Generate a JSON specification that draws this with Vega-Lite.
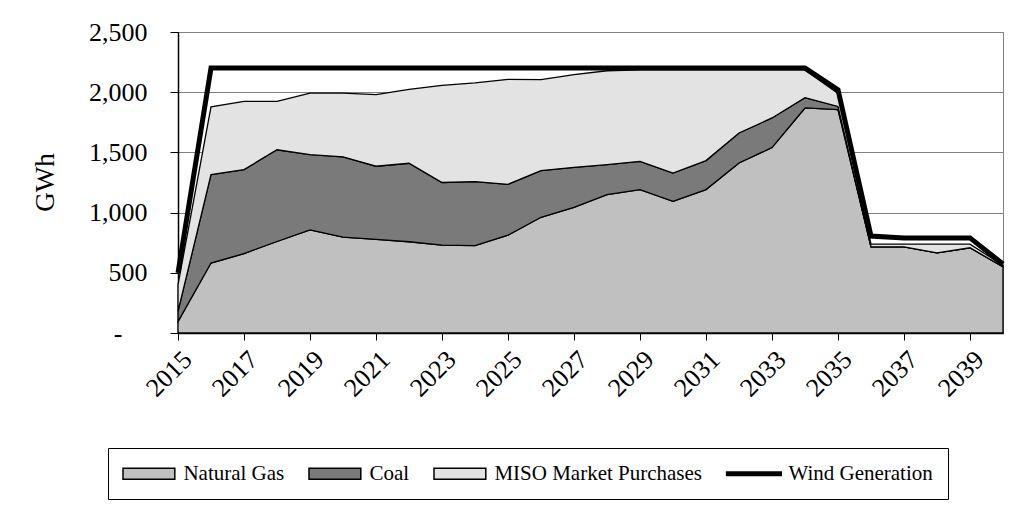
{
  "$schema": "https://vega.github.io/schema/vega-lite/v6.json",
  "width": 825,
  "height": 301,
  "autosize": {"type": "none"},
  "padding": {"left": 178, "top": 32, "right": 7, "bottom": 179},
  "background": "white",
  "config": {
    "font": "Liberation Serif",
    "view": {"stroke": "#808080", "strokeWidth": 1},
    "legend": {"symbolStrokeColor": "black", "symbolStrokeWidth": 1.5}
  },
  "datasets": {
    "gen": [
      {"year":2015,"series":"Natural Gas","k":1,"GWh":95},{"year":2015,"series":"Coal","k":2,"GWh":85},{"year":2015,"series":"MISO Market Purchases","k":3,"GWh":220},
      {"year":2016,"series":"Natural Gas","k":1,"GWh":581},{"year":2016,"series":"Coal","k":2,"GWh":734},{"year":2016,"series":"MISO Market Purchases","k":3,"GWh":563},
      {"year":2017,"series":"Natural Gas","k":1,"GWh":660},{"year":2017,"series":"Coal","k":2,"GWh":697},{"year":2017,"series":"MISO Market Purchases","k":3,"GWh":567},
      {"year":2018,"series":"Natural Gas","k":1,"GWh":760},{"year":2018,"series":"Coal","k":2,"GWh":762},{"year":2018,"series":"MISO Market Purchases","k":3,"GWh":402},
      {"year":2019,"series":"Natural Gas","k":1,"GWh":856},{"year":2019,"series":"Coal","k":2,"GWh":625},{"year":2019,"series":"MISO Market Purchases","k":3,"GWh":511},
      {"year":2020,"series":"Natural Gas","k":1,"GWh":797},{"year":2020,"series":"Coal","k":2,"GWh":666},{"year":2020,"series":"MISO Market Purchases","k":3,"GWh":529},
      {"year":2021,"series":"Natural Gas","k":1,"GWh":778},{"year":2021,"series":"Coal","k":2,"GWh":607},{"year":2021,"series":"MISO Market Purchases","k":3,"GWh":595},
      {"year":2022,"series":"Natural Gas","k":1,"GWh":758},{"year":2022,"series":"Coal","k":2,"GWh":652},{"year":2022,"series":"MISO Market Purchases","k":3,"GWh":614},
      {"year":2023,"series":"Natural Gas","k":1,"GWh":730},{"year":2023,"series":"Coal","k":2,"GWh":520},{"year":2023,"series":"MISO Market Purchases","k":3,"GWh":807},
      {"year":2024,"series":"Natural Gas","k":1,"GWh":725},{"year":2024,"series":"Coal","k":2,"GWh":533},{"year":2024,"series":"MISO Market Purchases","k":3,"GWh":819},
      {"year":2025,"series":"Natural Gas","k":1,"GWh":813},{"year":2025,"series":"Coal","k":2,"GWh":422},{"year":2025,"series":"MISO Market Purchases","k":3,"GWh":872},
      {"year":2026,"series":"Natural Gas","k":1,"GWh":961},{"year":2026,"series":"Coal","k":2,"GWh":388},{"year":2026,"series":"MISO Market Purchases","k":3,"GWh":756},
      {"year":2027,"series":"Natural Gas","k":1,"GWh":1044},{"year":2027,"series":"Coal","k":2,"GWh":332},{"year":2027,"series":"MISO Market Purchases","k":3,"GWh":770},
      {"year":2028,"series":"Natural Gas","k":1,"GWh":1149},{"year":2028,"series":"Coal","k":2,"GWh":249},{"year":2028,"series":"MISO Market Purchases","k":3,"GWh":780},
      {"year":2029,"series":"Natural Gas","k":1,"GWh":1191},{"year":2029,"series":"Coal","k":2,"GWh":235},{"year":2029,"series":"MISO Market Purchases","k":3,"GWh":759},
      {"year":2030,"series":"Natural Gas","k":1,"GWh":1094},{"year":2030,"series":"Coal","k":2,"GWh":235},{"year":2030,"series":"MISO Market Purchases","k":3,"GWh":856},
      {"year":2031,"series":"Natural Gas","k":1,"GWh":1191},{"year":2031,"series":"Coal","k":2,"GWh":241},{"year":2031,"series":"MISO Market Purchases","k":3,"GWh":753},
      {"year":2032,"series":"Natural Gas","k":1,"GWh":1412},{"year":2032,"series":"Coal","k":2,"GWh":249},{"year":2032,"series":"MISO Market Purchases","k":3,"GWh":524},
      {"year":2033,"series":"Natural Gas","k":1,"GWh":1540},{"year":2033,"series":"Coal","k":2,"GWh":246},{"year":2033,"series":"MISO Market Purchases","k":3,"GWh":399},
      {"year":2034,"series":"Natural Gas","k":1,"GWh":1869},{"year":2034,"series":"Coal","k":2,"GWh":86},{"year":2034,"series":"MISO Market Purchases","k":3,"GWh":230},
      {"year":2035,"series":"Natural Gas","k":1,"GWh":1855},{"year":2035,"series":"Coal","k":2,"GWh":27},{"year":2035,"series":"MISO Market Purchases","k":3,"GWh":108},
      {"year":2036,"series":"Natural Gas","k":1,"GWh":716},{"year":2036,"series":"Coal","k":2,"GWh":0},{"year":2036,"series":"MISO Market Purchases","k":3,"GWh":22},
      {"year":2037,"series":"Natural Gas","k":1,"GWh":716},{"year":2037,"series":"Coal","k":2,"GWh":0},{"year":2037,"series":"MISO Market Purchases","k":3,"GWh":22},
      {"year":2038,"series":"Natural Gas","k":1,"GWh":665},{"year":2038,"series":"Coal","k":2,"GWh":0},{"year":2038,"series":"MISO Market Purchases","k":3,"GWh":73},
      {"year":2039,"series":"Natural Gas","k":1,"GWh":708},{"year":2039,"series":"Coal","k":2,"GWh":0},{"year":2039,"series":"MISO Market Purchases","k":3,"GWh":30},
      {"year":2040,"series":"Natural Gas","k":1,"GWh":550},{"year":2040,"series":"Coal","k":2,"GWh":0},{"year":2040,"series":"MISO Market Purchases","k":3,"GWh":12}
    ],
    "wind": [
      {"year":2015,"series":"Wind Generation","GWh":500},
      {"year":2016,"series":"Wind Generation","GWh":2200},
      {"year":2017,"series":"Wind Generation","GWh":2200},
      {"year":2018,"series":"Wind Generation","GWh":2200},
      {"year":2019,"series":"Wind Generation","GWh":2200},
      {"year":2020,"series":"Wind Generation","GWh":2200},
      {"year":2021,"series":"Wind Generation","GWh":2200},
      {"year":2022,"series":"Wind Generation","GWh":2200},
      {"year":2023,"series":"Wind Generation","GWh":2200},
      {"year":2024,"series":"Wind Generation","GWh":2200},
      {"year":2025,"series":"Wind Generation","GWh":2200},
      {"year":2026,"series":"Wind Generation","GWh":2200},
      {"year":2027,"series":"Wind Generation","GWh":2200},
      {"year":2028,"series":"Wind Generation","GWh":2200},
      {"year":2029,"series":"Wind Generation","GWh":2200},
      {"year":2030,"series":"Wind Generation","GWh":2200},
      {"year":2031,"series":"Wind Generation","GWh":2200},
      {"year":2032,"series":"Wind Generation","GWh":2200},
      {"year":2033,"series":"Wind Generation","GWh":2200},
      {"year":2034,"series":"Wind Generation","GWh":2200},
      {"year":2035,"series":"Wind Generation","GWh":2020},
      {"year":2036,"series":"Wind Generation","GWh":805},
      {"year":2037,"series":"Wind Generation","GWh":790},
      {"year":2038,"series":"Wind Generation","GWh":790},
      {"year":2039,"series":"Wind Generation","GWh":790},
      {"year":2040,"series":"Wind Generation","GWh":573}
    ]
  },
  "layer": [
    {
      "data": {"name": "gen"},
      "mark": {"type": "area", "stroke": "black", "strokeWidth": 1.3, "strokeJoin": "miter"},
      "encoding": {
        "x": {
          "field": "year", "type": "quantitative",
          "scale": {"domain": [2015, 2040], "nice": false, "zero": false},
          "axis": {
            "title": null,
            "values": [2015,2016,2017,2018,2019,2020,2021,2022,2023,2024,2025,2026,2027,2028,2029,2030,2031,2032,2033,2034,2035,2036,2037,2038,2039,2040],
            "labelExpr": "(datum.value - 2015) % 2 == 0 ? '' + datum.value : ''",
            "labelAngle": -45,
            "labelFont": "Liberation Serif", "labelFontSize": 26, "labelColor": "black",
            "labelPadding": 6, "labelOverlap": false, "labelFlush": false, "labelBound": false,
            "tickColor": "black", "tickSize": 7, "tickWidth": 1,
            "domainColor": "black", "domainWidth": 1.5,
            "grid": false
          }
        },
        "y": {
          "field": "GWh", "type": "quantitative", "stack": "zero",
          "scale": {"domain": [0, 2500], "nice": false},
          "axis": {
            "title": "GWh",
            "values": [0, 500, 1000, 1500, 2000, 2500],
            "labelExpr": "datum.value == 0 ? '-' : format(datum.value, ',')",
            "labelFont": "Liberation Serif", "labelFontSize": 26, "labelColor": "black",
            "labelPadding": {"condition": {"test": "datum.value == 0", "value": 48}, "value": 23},
            "tickColor": "black", "tickSize": 8, "tickWidth": 1,
            "domainColor": "black", "domainWidth": 1.5,
            "grid": true, "gridColor": "#808080", "gridWidth": 1,
            "titleFont": "Liberation Serif", "titleFontSize": 27, "titleFontWeight": "normal", "titleColor": "black",
            "titleX": -133, "titleY": 150, "titleAngle": -90, "titleAlign": "center", "titleBaseline": "middle"
          }
        },
        "color": {
          "field": "series", "type": "nominal",
          "scale": {
            "domain": ["Natural Gas", "Coal", "MISO Market Purchases", "Wind Generation"],
            "range": ["#c0c0c0", "#7a7a7a", "#e3e3e3", "#000000"]
          },
          "legend": {
            "title": null,
            "orient": "none", "legendX": -70, "legendY": 416,
            "direction": "horizontal",
            "symbolType": "M-3.7,-0.8H3.7V0.8H-3.7Z",
            "symbolSize": 196,
            "symbolStrokeWidth": 1.5, "symbolStrokeColor": "black",
            "symbolOffset": 15.4,
            "labelOffset": 24,
            "labelFont": "Liberation Serif", "labelFontSize": 21, "labelColor": "black", "labelLimit": 0,
            "columnPadding": 20,
            "padding": 15,
            "strokeColor": "black", "fillColor": "white",
            "encode": {
              "symbols": {
                "update": {
                  "shape": {"signal": "datum.value === 'Wind Generation' ? 'M-3.9,-0.25H3.9V0.25H-3.9Z' : 'M-3.7,-0.8H3.7V0.8H-3.7Z'"},
                  "opacity": {"value": 1}
                }
              }
            }
          }
        },
        "order": {"field": "k", "type": "quantitative"}
      }
    },
    {
      "data": {"name": "wind"},
      "mark": {"type": "line", "strokeWidth": 5, "strokeJoin": "miter", "color": "black"},
      "encoding": {
        "x": {"field": "year", "type": "quantitative"},
        "y": {"field": "GWh", "type": "quantitative"}
      }
    }
  ]
}
